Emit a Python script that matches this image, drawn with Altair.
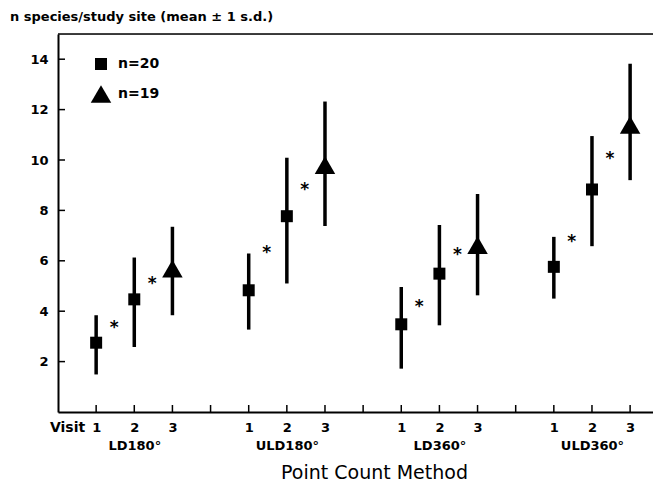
import altair as alt
import pandas as pd

methods = ["LD180°", "ULD180°", "LD360°", "ULD360°"]
visits = [1, 2, 3]
sample = ["n=20", "n=20", "n=19"]
means = [[2.75, 4.47, 5.69], [4.83, 7.77, 9.80], [3.48, 5.49, 6.62], [5.76, 8.83, 11.39]]
lows = [[1.49, 2.58, 3.84], [3.27, 5.10, 7.38], [1.72, 3.44, 4.63], [4.50, 6.58, 9.20]]
highs = [[3.84, 6.13, 7.35], [6.29, 10.09, 12.32], [4.96, 7.42, 8.65], [6.95, 10.95, 13.82]]
stars = [[3.50, 5.23], [6.45, 8.98], [4.34, 6.38], [6.89, 10.20]]
y_ticks = [2, 4, 6, 8, 10, 12, 14]
x_ticks = list(range(1, 16))

rows = []
for g, m in enumerate(methods):
    for j, v in enumerate(visits):
        rows.append(dict(method=m, visit=v, pos=g * 4 + v, mean=means[g][j],
                         lo=lows[g][j], hi=highs[g][j], n=sample[j]))
df = pd.DataFrame(rows)

srows = []
for g, m in enumerate(methods):
    for k, s in enumerate(stars[g]):
        srows.append(dict(pos=g * 4 + k + 1.47, y=s))
sdf = pd.DataFrame(srows)

W, H = 595, 378
FONT = "DejaVu Sans"

xs = alt.Scale(domain=[0, 15.6], nice=False, zero=False)
ys = alt.Scale(domain=[0, 15], nice=False)

methods_js = "[" + ",".join("'" + m + "'" for m in methods) + "]"
label_expr = (
    "datum.value % 4 == 0 ? '' : (datum.value % 4 == 2 ? "
    "[toString(datum.value % 4), " + methods_js + "[floor(datum.value / 4)]] : "
    "toString(datum.value % 4))"
)

xaxis = alt.Axis(values=x_ticks, labelExpr=label_expr, ticks=False, grid=False,
                 domainWidth=2, domainColor="black", labelFont=FONT, labelFontSize=13,
                 labelFontWeight="bold", labelColor="black", labelPadding=9,
                 labelLineHeight=18.5, labelBaseline="top",
                 title="Point Count Method", titleFont=FONT, titleFontSize=19,
                 titleFontWeight="normal", titleColor="black", titleX=316, titleY=66,
                 titleBaseline="alphabetic", titleAlign="center")
yaxis = alt.Axis(values=y_ticks, ticks=False, grid=False, domainWidth=2,
                 domainColor="black", labelFont=FONT, labelFontSize=13,
                 labelFontWeight="bold", labelColor="black", labelPadding=10, title=None)

base = alt.Chart(df)

bars = base.mark_rule(strokeWidth=3.5, color="black").encode(
    x=alt.X("pos:Q", scale=xs, axis=xaxis),
    y=alt.Y("lo:Q", scale=ys, axis=yaxis),
    y2="hi:Q",
)

leg = alt.Legend(title=None, orient="none", legendX=32, legendY=23,
                 labelFont=FONT, labelFontSize=14, labelFontWeight="bold",
                 labelColor="black", symbolFillColor="black", symbolStrokeColor="black",
                 symbolOpacity=1, rowPadding=9, labelOffset=6)

pts = base.mark_point(filled=True, color="black", opacity=1).encode(
    x=alt.X("pos:Q", scale=xs),
    y=alt.Y("mean:Q", scale=ys),
    shape=alt.Shape("n:N", scale=alt.Scale(domain=["n=20", "n=19"],
                                           range=["square", "triangle-up"]), legend=leg),
    size=alt.Size("n:N", scale=alt.Scale(domain=["n=20", "n=19"], range=[144, 420]),
                  legend=leg),
)

star_marks = alt.Chart(sdf).mark_text(text="*", fontSize=17, fontWeight="bold",
                                      font=FONT, color="black", baseline="middle",
                                      dy=4).encode(
    x=alt.X("pos:Q", scale=xs),
    y=alt.Y("y:Q", scale=ys),
)

top_line = alt.Chart(pd.DataFrame({"top": [15]})).mark_rule(
    color="black", strokeWidth=1.5).encode(y=alt.Y("top:Q", scale=ys))

yt = alt.Chart(pd.DataFrame({"v": y_ticks})).mark_rule(color="black", strokeWidth=1.5).encode(
    y=alt.Y("v:Q", scale=ys), x=alt.value(0), x2=alt.value(7))
xt = alt.Chart(pd.DataFrame({"v": x_ticks})).mark_rule(color="black", strokeWidth=1.5).encode(
    x=alt.X("v:Q", scale=xs), y=alt.value(H - 7), y2=alt.value(H))

visit_lbl = alt.Chart(pd.DataFrame({"pos": [1], "t": ["Visit"]})).mark_text(
    font=FONT, fontSize=14, fontWeight="bold", color="black", align="right",
    baseline="top", dx=-11).encode(
    x=alt.X("pos:Q", scale=xs), y=alt.value(H + 8.5), text="t:N")

chart = alt.layer(top_line, yt, xt, bars, pts, star_marks, visit_lbl).properties(
    width=W, height=H,
    title=alt.TitleParams("n species/study site (mean ± 1 s.d.)", anchor="start",
                          frame="group", font=FONT, fontSize=13, fontWeight="bold",
                          color="black", dx=-48, offset=9),
    autosize=alt.AutoSizeParams(type="none"),
    padding={"left": 50, "top": 26, "right": 0, "bottom": 71},
).configure_view(stroke=None).configure(background="white")

chart.save("out.html", embed_options={"renderer": "svg", "actions": False})
